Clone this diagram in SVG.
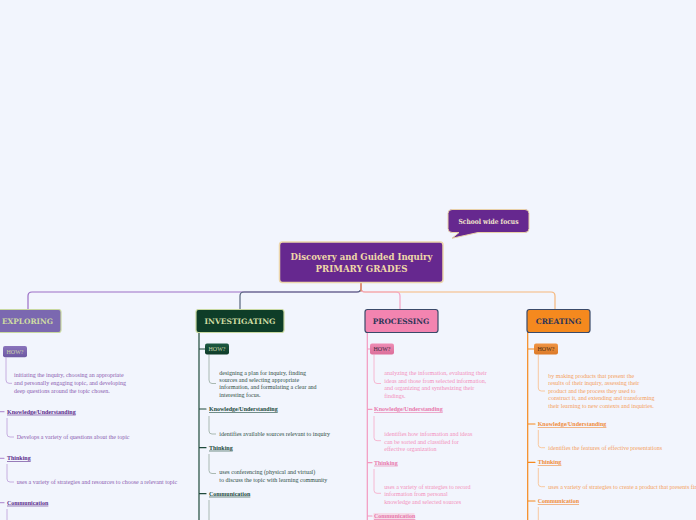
<svg xmlns="http://www.w3.org/2000/svg" width="696" height="520" viewBox="0 0 696 520">
<defs>
<style>
.ttl{font-family:"DejaVu Serif","Liberation Serif",serif;font-weight:bold;text-anchor:middle}
.how{font-family:"Liberation Serif",serif;font-size:6px;text-anchor:middle}
.lbl{font-family:"Liberation Serif",serif;font-size:6px;font-weight:bold;text-decoration:underline}
.txt{font-family:"Liberation Serif",serif;font-size:6px}
.ln{fill:none;stroke-width:1.2;stroke-linecap:round}
.sub{fill:none;stroke-width:1}
.e{fill:#8a5cb0}.el{fill:#5b2c8c}.es{stroke:#c6aee0}
.i{fill:#2e4d44}.il{fill:#1c4a3c}.is{stroke:#a9b9b2}
.p{fill:#f290bc}.pl{fill:#e878ac}.ps{stroke:#f6b8d2}
.c{fill:#f4a060}.cl{fill:#f08c3c}.cs{stroke:#f8c9a0}
</style>
<linearGradient id="gE" x1="0" y1="0" x2="0" y2="1"><stop offset="0" stop-color="#8a74bc"/><stop offset="1" stop-color="#6c58a2"/></linearGradient>
<linearGradient id="gI" x1="0" y1="0" x2="0" y2="1"><stop offset="0" stop-color="#1d5a42"/><stop offset="1" stop-color="#0e3a28"/></linearGradient>
<linearGradient id="gP" x1="0" y1="0" x2="0" y2="1"><stop offset="0" stop-color="#ee8cb4"/><stop offset="1" stop-color="#dc6e9a"/></linearGradient>
<linearGradient id="gC" x1="0" y1="0" x2="0" y2="1"><stop offset="0" stop-color="#f09444"/><stop offset="1" stop-color="#dc7a28"/></linearGradient>
</defs>
<rect width="696" height="520" fill="#f2f5fd"/>

<g id="connectors">
<path class="ln" stroke="#9c6fc6" d="M361,283 V288 Q361,292 357,292 H32 Q28,292 28,296 V309"/>
<path class="ln" stroke="#56657d" d="M361,283 V288 Q361,292 357,292 H244 Q240,292 240,296 V309"/>
<path class="ln" stroke="#f5b77c" d="M361,283 V288 Q361,292 365,292 H551 Q555,292 555,296 V309"/>
<path class="ln" stroke="#f4a2c4" d="M361,283 V288 Q361,292 365,292 H396 Q400,292 400,296 V309"/>
<path class="ln" stroke="#dc8a5a" d="M361,283 V291"/>
<!-- trunks -->
<path class="ln" stroke="#1f4a3b" stroke-width="1.5" d="M199,332 V520 M199,349 H205 M199,409 H206 M199,447.7 H206 M199,493.7 H206"/>
<path class="ln" stroke="#f39ac0" stroke-width="1.6" d="M367.3,332 V520 M367.3,349 H370 M367.3,409.3 H372 M367.3,462.7 H372 M367.3,516 H372"/>
<path class="ln" stroke="#f5891e" stroke-width="1.6" d="M527.7,332 V520 M527.7,349 H534 M527.7,424 H535 M527.7,462.3 H535 M527.7,501 H535"/>
<path class="ln" stroke="#b89ad6" d="M0,411.7 H4 M0,458.3 H4 M0,502.7 H4"/>
<!-- sub connectors -->
<path class="sub es" d="M6,357.5 V380 Q6,383.3 9,383.3 H12"/>
<path class="sub es" d="M7,418 V434 Q7,437 10,437 H14"/>
<path class="sub es" d="M7,464 V479 Q7,482 10,482 H14"/>
<path class="sub es" d="M7,509 V520"/>
<path class="sub is" d="M209,354.5 V380 Q209,383.5 212,383.5 H216"/>
<path class="sub is" d="M209,416 V431 Q209,434 212,434 H216"/>
<path class="sub is" d="M209,454 V470.5 Q209,473.5 212,473.5 H216"/>
<path class="sub is" d="M209,500 V520"/>
<path class="sub ps" d="M374,354.5 V380 Q374,383.5 377,383.5 H381"/>
<path class="sub ps" d="M374,416 V437.7 Q374,440.7 377,440.7 H381"/>
<path class="sub ps" d="M374,469 V490.3 Q374,493.3 377,493.3 H381"/>
<path class="sub cs" d="M538.3,354.5 V388 Q538.3,391 541.3,391 H545"/>
<path class="sub cs" d="M538.3,430 V444.7 Q538.3,447.7 541.3,447.7 H545"/>
<path class="sub cs" d="M538.3,468 V483.7 Q538.3,486.7 541.3,486.7 H545"/>
<path class="sub cs" d="M538.3,507 V520"/>
</g>

<g id="callout">
<path d="M452,209.5 H525 Q529,209.5 529,213.5 V228.5 Q529,232.5 525,232.5 H478 L452,238.3 L459,232.5 H452 Q448,232.5 448,228.5 V213.5 Q448,209.5 452,209.5 Z" fill="#66288f" stroke="#e8d0a8" stroke-width="1"/>
<text class="ttl" x="488.5" y="223.5" font-size="7" fill="#f0e2cc" textLength="60" lengthAdjust="spacingAndGlyphs">School wide focus</text>
</g>

<g id="main">
<rect x="279.5" y="242" width="163.5" height="40.5" rx="3" fill="#66288f" stroke="#ecd6ac" stroke-width="1.5"/>
<text class="ttl" x="361.5" y="260" font-size="9" fill="#efd8a8" textLength="142" lengthAdjust="spacingAndGlyphs">Discovery and Guided Inquiry</text>
<text class="ttl" x="361.5" y="272" font-size="9" fill="#efd8a8" textLength="92" lengthAdjust="spacingAndGlyphs">PRIMARY GRADES</text>
</g>

<g id="exploring">
<rect x="-6" y="309.5" width="67" height="23" rx="2.5" fill="#7b68b0" stroke="#c8d8a0" stroke-width="1.2"/>
<text class="ttl" x="27.5" y="324" font-size="7.5" fill="#cfdca2" textLength="51" lengthAdjust="spacingAndGlyphs">EXPLORING</text>
</g>
<g id="exploring-how">
<rect x="3" y="346" width="24" height="11.3" rx="2" fill="url(#gE)"/>
<text class="how" x="15" y="353.7" fill="#c8d0a8">HOW?</text>
<text class="txt e" x="14"><tspan x="14" y="377">initiating the inquiry, choosing an appropriate</tspan><tspan x="14" y="385">and personally engaging topic, and developing</tspan><tspan x="14" y="392.8">deep questions around the topic chosen.</tspan></text>
</g>
<g id="exploring-ku"><text class="lbl el" x="7" y="413.7">Knowledge/Understanding</text>
<text class="txt e" x="16.7" y="438.5">Develops a variety of questions about the topic</text></g>
<g id="exploring-th"><text class="lbl el" x="7" y="460.3">Thinking</text>
<text class="txt e" x="16.7" y="483.5">uses a variety of strategies and resources to choose a relevant topic</text></g>
<g id="exploring-co"><text class="lbl el" x="7" y="504.7">Communication</text></g>

<g id="investigating">
<rect x="196" y="309.5" width="88" height="23" rx="2.5" fill="#0e3d28" stroke="#c8d8a0" stroke-width="1.2"/>
<text class="ttl" x="240" y="324" font-size="7.5" fill="#cfdca2" textLength="71" lengthAdjust="spacingAndGlyphs">INVESTIGATING</text>
</g>
<g id="investigating-how">
<rect x="205" y="343.5" width="24" height="11" rx="2" fill="url(#gI)"/>
<text class="how" x="217" y="351.2" fill="#c8d8a8">HOW?</text>
<text class="txt i"><tspan x="219.3" y="374.5">designing a plan for inquiry, finding</tspan><tspan x="219.3" y="381.8">sources and selecting appropriate</tspan><tspan x="219.3" y="389.1">information, and formulating a clear and</tspan><tspan x="219.3" y="396.8">interesting focus.</tspan></text>
</g>
<g id="investigating-ku"><text class="lbl il" x="209" y="411">Knowledge/Understanding</text>
<text class="txt i" x="219.3" y="435.8">identifies available sources relevant to inquiry</text></g>
<g id="investigating-th"><text class="lbl il" x="209" y="449.7">Thinking</text>
<text class="txt i"><tspan x="219.3" y="474.2">uses conferencing (physical and virtual)</tspan><tspan x="219.3" y="481.8">to discuss the topic with learning community</tspan></text></g>
<g id="investigating-co"><text class="lbl il" x="209" y="495.7">Communication</text></g>

<g id="processing">
<rect x="365" y="309.5" width="73" height="23" rx="2.5" fill="#f384b0" stroke="#3a4a6a" stroke-width="1.2"/>
<text class="ttl" x="401" y="324" font-size="7.5" fill="#2d3557" textLength="56.5" lengthAdjust="spacingAndGlyphs">PROCESSING</text>
</g>
<g id="processing-how">
<rect x="370" y="343.5" width="24" height="11" rx="2" fill="url(#gP)"/>
<text class="how" x="382" y="351.2" fill="#3a2840">HOW?</text>
<text class="txt p"><tspan x="384.3" y="375.1">analyzing the information, evaluating their</tspan><tspan x="384.3" y="382.5">ideas and those from selected information,</tspan><tspan x="384.3" y="390.1">and organizing and synthesizing their</tspan><tspan x="384.3" y="397.5">findings.</tspan></text>
</g>
<g id="processing-ku"><text class="lbl pl" x="374" y="411.3">Knowledge/Understanding</text>
<text class="txt p"><tspan x="384.3" y="435.8">identifies how information and ideas</tspan><tspan x="384.3" y="443.5">can be sorted and classified for</tspan><tspan x="384.3" y="450.8">effective organization</tspan></text></g>
<g id="processing-th"><text class="lbl pl" x="374" y="464.7">Thinking</text>
<text class="txt p"><tspan x="384.3" y="488.5">uses a variety of strategies to record</tspan><tspan x="384.3" y="496.1">information from personal</tspan><tspan x="384.3" y="503.5">knowledge and selected sources</tspan></text></g>
<g id="processing-co"><rect x="373.5" y="513" width="41" height="7" fill="#f6dbe8"/><text class="lbl pl" x="374" y="518">Communication</text></g>

<g id="creating">
<rect x="527" y="309.5" width="63" height="23" rx="2.5" fill="#f5891e" stroke="#3a4a6a" stroke-width="1.2"/>
<text class="ttl" x="558.5" y="324" font-size="7.5" fill="#2d3557" textLength="45.6" lengthAdjust="spacingAndGlyphs">CREATING</text>
</g>
<g id="creating-how">
<rect x="534" y="343.5" width="24" height="11" rx="2" fill="url(#gC)"/>
<text class="how" x="546" y="351.2" fill="#4a2a10">HOW?</text>
<text class="txt c"><tspan x="548.3" y="377.5">by making products that present the</tspan><tspan x="548.3" y="385.1">results of their inquiry, assessing their</tspan><tspan x="548.3" y="392.7">product and the process they used to</tspan><tspan x="548.3" y="400.3">construct it, and extending and transforming</tspan><tspan x="548.3" y="407.9">their learning to new contexts and inquiries.</tspan></text>
</g>
<g id="creating-ku"><text class="lbl cl" x="537.7" y="426">Knowledge/Understanding</text>
<text class="txt c" x="548.3" y="449.5">identifies the features of effective presentations</text></g>
<g id="creating-th"><text class="lbl cl" x="537.7" y="464.3">Thinking</text>
<text class="txt c" x="548.3" y="488.5">uses a variety of strategies to create a product that presents findings</text></g>
<g id="creating-co"><text class="lbl cl" x="537.7" y="503">Communication</text></g>
</svg>
